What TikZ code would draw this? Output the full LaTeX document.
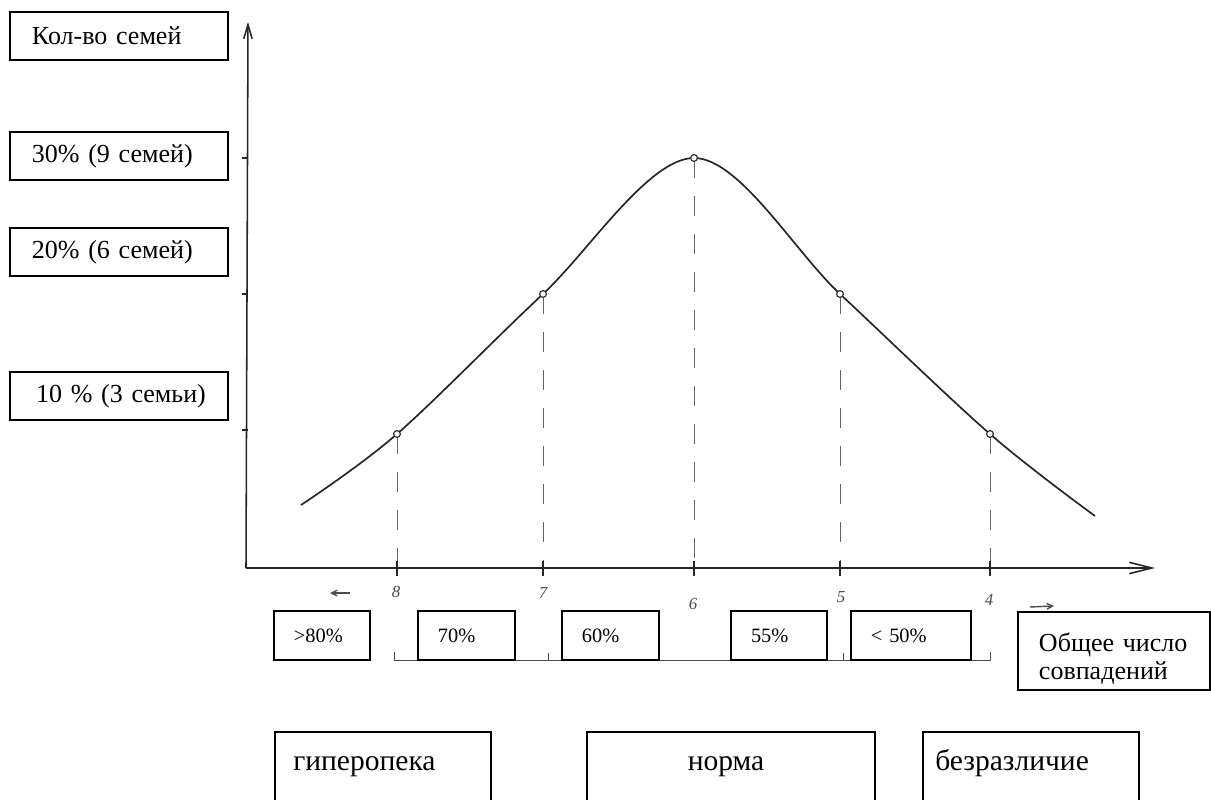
\documentclass[tikz,border=0pt]{standalone}
\usepackage{fontspec}
\setmainfont{Liberation Serif}
\usetikzlibrary{arrows.meta}
\begin{document}
\begin{tikzpicture}[x=0.025cm,y=-0.025cm,
  lbox/.style={draw=black,fill=white,line width=1.2pt,minimum width=5.45cm,minimum height=1.2cm,
    inner xsep=0.55cm,inner ysep=0pt,text width=4.35cm,align=left,font=\fontsize{18.5}{19.5}\selectfont},
  sbox/.style={draw=black,fill=white,line width=1.2pt,minimum height=1.225cm,inner ysep=0pt,
    inner xsep=0.5cm,align=left,font=\fontsize{14.5}{17}\selectfont},
  bbox/.style={draw=black,line width=1.2pt,minimum height=1.95cm,inner sep=0pt},
  btext/.style={font=\fontsize{21}{24}\selectfont,inner sep=0pt},
  axis/.style={draw=black!85,line width=1.1pt},
  curve/.style={draw=black!85,line width=1.2pt},
  dashln/.style={draw=black!60,line width=0.7pt,dash pattern=on 0.5cm off 0.45cm},
  pt/.style={circle,draw=black!85,fill=white,line width=0.8pt,minimum size=0.17cm,inner sep=0pt},
  hand/.style={font=\fontsize{12}{14}\selectfont\itshape,text=black!70,inner sep=0pt},
  brk/.style={draw=black!70,line width=0.7pt},
  ]
\useasboundingbox (0,0) rectangle (1211,800);
\clip (0,0) rectangle (1211,800);

% axes
\coordinate (O) at (246,568);
\coordinate (ytop) at (248,22);
\coordinate (xend) at (1155,568);
\draw[axis,-{Straight Barb[length=10pt,width=6pt]}] (O) -- (ytop);
\draw[axis,-{Straight Barb[length=16pt,width=8pt]}] (O) -- (xend);
\foreach \yy in {158,294,430} \draw[axis] (242,\yy) -- (248,\yy);

% curve points
\coordinate (c0) at (301,505);
\coordinate (a8) at (397,434);
\coordinate (a7) at (543,294);
\coordinate (a6) at (694,158);
\coordinate (a5) at (840,294);
\coordinate (a4) at (990,434);
\coordinate (c1) at (1095,516);
\coordinate (t8) at (397,568);
\coordinate (t7) at (543,568);
\coordinate (t6) at (694,568);
\coordinate (t5) at (840,568);
\coordinate (t4) at (990,568);

\draw[curve] plot[smooth,tension=0.55] coordinates {(c0) (a8) (a7) (a6) (a5) (a4) (c1)};

\foreach \p in {8,7,6,5,4}{
  \draw[dashln] (a\p) -- (t\p);
  \draw[axis] ([yshift=0.18cm]t\p) -- ([yshift=-0.2cm]t\p);
}
\foreach \p in {8,7,6,5,4} \node[pt] (q\p) at (a\p) {};

% handwritten numbers
\node[hand] (n8) at (396,592) {8};
\node[hand] (n7) at (543,593) {7};
\node[hand] (n6) at (693,604) {6};
\node[hand] (n5) at (841,597) {5};
\node[hand] (n4) at (989,600) {4};
\coordinate (la0) at (350,593);
\coordinate (la1) at (330,593);
\draw[brk,line width=1pt,-{Straight Barb[length=4pt,width=4pt]}] (la0) -- (la1);
\coordinate (ra0) at (1030,607);
\coordinate (ra1) at (1054,606);
\draw[brk,line width=1pt,-{Straight Barb[length=4pt,width=4pt]}] (ra0) -- (ra1);

% bracket
\coordinate (k0) at (394,652);
\coordinate (k1) at (394,660);
\coordinate (k2) at (990,660);
\coordinate (k3) at (990,652);
\draw[brk] (k0) -- (k1) -- (k2) -- (k3);
\draw[brk] (548,653) -- (548,660);
\draw[brk] (843,653) -- (843,660);

% left boxes
\node[lbox] (kol) at (119,36) {Кол-во семей};
\node[lbox] (p30) at (119,156) {30\% (9 семей)};
\node[lbox] (p20) at (119,252) {20\% (6 семей)};
\node[lbox] (p10) at (119,396) {\hspace*{3pt}10 \% (3 семьи)};

% small boxes
\node[sbox,minimum width=2.4cm,text width=1.4cm] (b80) at (322,635.5) {>80\%};
\node[sbox,minimum width=2.425cm,text width=1.425cm] (b70) at (466.5,635.5) {70\%};
\node[sbox,minimum width=2.425cm,text width=1.425cm] (b60) at (610.5,635.5) {60\%};
\node[sbox,minimum width=2.4cm,text width=1.4cm] (b55) at (779,635.5) {55\%};
\node[sbox,minimum width=3cm,text width=2cm] (b50) at (911,635.5) {< 50\%};
\node[lbox,minimum width=4.8cm,text width=3.75cm,inner xsep=0.525cm,minimum height=1.95cm,
  font=\fontsize{18.5}{19.5}\selectfont] (total) at (1114,651) {\rule{0pt}{24pt}Общее число\\совпадений};

% bottom boxes
\node[bbox,minimum width=5.4cm] (hyp) at (383,771) {};
\node[bbox,minimum width=7.2cm] (norm) at (731,771) {};
\node[bbox,minimum width=5.4cm] (bez) at (1031,771) {};
\node[btext,anchor=base west] (hypt) at (293,770) {гиперопека};
\node[btext,anchor=base] (normt) at (726,770) {норма};
\node[btext,anchor=base west] (bezt) at (935,770) {безразличие};
\end{tikzpicture}
\end{document}
